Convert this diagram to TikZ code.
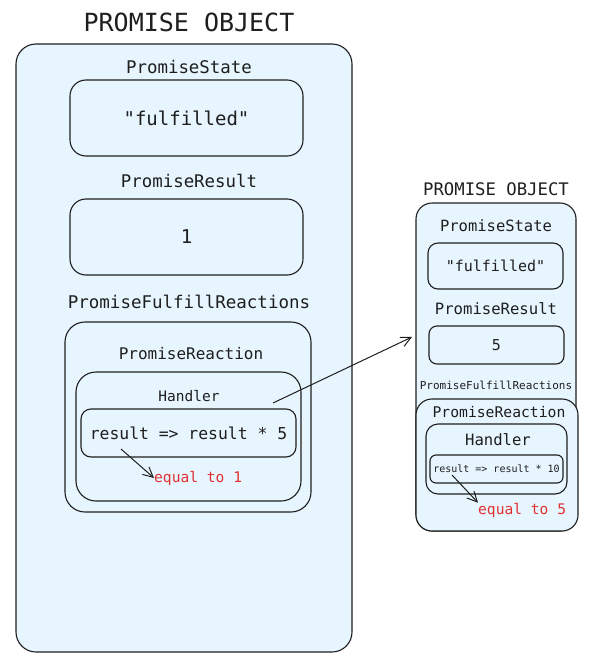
\documentclass[tikz,border=0pt]{standalone}
\usepackage{fontspec}
\setmonofont{DejaVu Sans Mono}
\usetikzlibrary{arrows.meta}
\definecolor{boxfill}{HTML}{E7F5FF}
\definecolor{ink}{HTML}{1E1E1E}
\definecolor{redtxt}{HTML}{E03131}
\tikzset{
  box/.style={draw=ink, line width=1.1pt, fill=boxfill, rectangle, inner sep=0pt},
  lbl/.style={text=ink, font=\ttfamily, inner sep=0pt},
  redlbl/.style={text=redtxt, font=\ttfamily, inner sep=0pt},
  arr/.style={draw=ink, line width=1pt, -{Straight Barb[length=10pt,width=10pt]}}
}
\begin{document}
\begin{tikzpicture}[x=1pt,y=-1pt]
\useasboundingbox (0,0) rectangle (592,669);
% ---- left object ----
\node[lbl, font=\ttfamily\fontsize{25}{25}\selectfont] (t1) at (189,22) {PROMISE OBJECT};
\node[box, rounded corners=20pt, minimum width=336pt, minimum height=608pt] (L) at (184,348) {};
\node[lbl, font=\ttfamily\fontsize{17.4}{18}\selectfont] (ls) at (189,67) {PromiseState};
\node[box, rounded corners=16pt, minimum width=233pt, minimum height=76pt] (L1) at (186.5,118) {};
\node[lbl, font=\ttfamily\fontsize{19}{20}\selectfont] at (L1) {"fulfilled"};
\node[lbl, font=\ttfamily\fontsize{17.4}{18}\selectfont] (lr) at (189,181) {PromiseResult};
\node[box, rounded corners=16pt, minimum width=233pt, minimum height=76pt] (L2) at (186.5,237) {};
\node[lbl, font=\ttfamily\fontsize{19}{20}\selectfont] at (L2) {1};
\node[lbl, font=\ttfamily\fontsize{17.5}{18}\selectfont] (lf) at (189,302) {PromiseFulfillReactions};
\node[box, rounded corners=20pt, minimum width=246pt, minimum height=190pt] (L3) at (188,417) {};
\node[lbl, font=\ttfamily\fontsize{16}{17}\selectfont] (lpr) at (191,354) {PromiseReaction};
\node[box, rounded corners=20pt, minimum width=225pt, minimum height=129pt] (L4) at (188.5,436.5) {};
\node[lbl, font=\ttfamily\fontsize{14.5}{15}\selectfont] (lh) at (189,396) {Handler};
\node[box, rounded corners=10pt, minimum width=215pt, minimum height=48pt] (L5) at (188.5,433) {};
\node[lbl, font=\ttfamily\fontsize{16.4}{17}\selectfont] (lcode) at (L5) {result => result * 5};
\node[redlbl, font=\ttfamily\fontsize{14.6}{15}\selectfont, anchor=west] (eq1) at (154,478) {equal to 1};
\coordinate (a1) at (121,449);
\draw[arr] (a1) -- (eq1.west);
% ---- right object ----
\node[lbl, font=\ttfamily\fontsize{17.3}{18}\selectfont] (t2) at (496,189) {PROMISE OBJECT};
\node[box, rounded corners=16pt, minimum width=160pt, minimum height=328pt] (R) at (496,367) {};
\node[lbl, font=\ttfamily\fontsize{15.5}{16}\selectfont] (rs) at (496,226) {PromiseState};
\node[box, rounded corners=10pt, minimum width=135pt, minimum height=46pt] (R1) at (495.5,266) {};
\node[lbl, font=\ttfamily\fontsize{15}{16}\selectfont] at (R1) {"fulfilled"};
\node[lbl, font=\ttfamily\fontsize{15.6}{16}\selectfont] (rr) at (496,309) {PromiseResult};
\node[box, rounded corners=8pt, minimum width=135pt, minimum height=38pt] (R2) at (496.5,345) {};
\node[lbl, font=\ttfamily\fontsize{15}{16}\selectfont] at (R2) {5};
\node[lbl, font=\ttfamily\fontsize{11}{12}\selectfont] (rf) at (496,385) {PromiseFulfillReactions};
\node[box, rounded corners=16pt, minimum width=162pt, minimum height=132pt] (R3) at (497,465) {};
\node[lbl, font=\ttfamily\fontsize{14.7}{15}\selectfont] (rpr) at (499,412) {PromiseReaction};
\node[box, rounded corners=12pt, minimum width=141pt, minimum height=70pt] (R4) at (496.5,459) {};
\node[lbl, font=\ttfamily\fontsize{15.6}{16}\selectfont] (rh) at (498,440) {Handler};
\node[box, rounded corners=6pt, minimum width=133pt, minimum height=28pt] (R5) at (496.5,469) {};
\node[lbl, font=\ttfamily\fontsize{10}{11}\selectfont] (rcode) at (R5) {result => result * 10};
\node[redlbl, font=\ttfamily\fontsize{14.6}{15}\selectfont, anchor=west] (eq5) at (478,510) {equal to 5};
\coordinate (a2) at (452,475);
\draw[arr] (a2) -- (eq5.north west);
% ---- connector ----
\coordinate (hs) at (273,403);
\coordinate (he) at (412,337);
\draw[arr] (hs) -- (he);
\end{tikzpicture}
\end{document}
